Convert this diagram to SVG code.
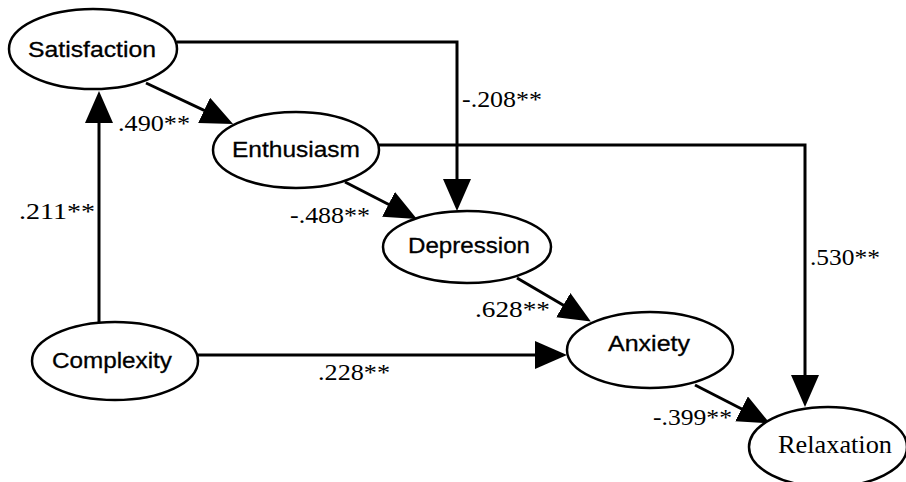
<svg xmlns="http://www.w3.org/2000/svg" width="906" height="482" viewBox="0 0 906 482">
<style>
.node ellipse{fill:#fff;stroke:#000;stroke-width:2.5}
.nl{font-family:"Liberation Sans",Arial,sans-serif;font-size:22px;fill:#000;stroke:#000;stroke-width:0.3;text-anchor:middle}
.nls{font-family:"Liberation Serif","Times New Roman",serif;font-size:25px;fill:#000;text-anchor:middle}
.cf{font-family:"Liberation Serif","Times New Roman",serif;font-size:24px;fill:#000}
.edge{fill:none;stroke:#000;stroke-width:3;marker-end:url(#ah)}
</style>
<defs>
<marker id="ah" markerUnits="userSpaceOnUse" markerWidth="34" markerHeight="30" refX="20" refY="14" orient="auto" viewBox="0 0 34 30">
<path d="M0,0 L32,14 L0,28 Z" fill="#000"/>
</marker>
</defs>
<rect width="906" height="482" fill="#fff"/>
<g id="connectors">
<path class="edge" d="M99,322 V103"/>
<path class="edge" d="M146,83 L222.2,118.9"/>
<path class="edge" d="M177,42 H457 V199"/>
<path class="edge" d="M345,182 L406.3,213.5"/>
<path class="edge" d="M378,145 H805 V395"/>
<path class="edge" d="M517,278 L580.5,315.3"/>
<path class="edge" d="M198,355 H555"/>
<path class="edge" d="M695,385 L759.3,418"/>
</g>
<g id="satisfaction" class="node"><ellipse cx="93" cy="49" rx="84" ry="40"/><text class="nl" x="92" y="57" textLength="128" lengthAdjust="spacingAndGlyphs">Satisfaction</text></g>
<g id="enthusiasm" class="node"><ellipse cx="296" cy="150" rx="83" ry="38"/><text class="nl" x="296" y="157" textLength="128" lengthAdjust="spacingAndGlyphs">Enthusiasm</text></g>
<g id="depression" class="node"><ellipse cx="467" cy="247" rx="84" ry="36"/><text class="nl" x="469" y="253" textLength="122" lengthAdjust="spacingAndGlyphs">Depression</text></g>
<g id="complexity" class="node"><ellipse cx="115" cy="361" rx="83" ry="39"/><text class="nl" x="112" y="368" textLength="120" lengthAdjust="spacingAndGlyphs">Complexity</text></g>
<g id="anxiety" class="node"><ellipse cx="650" cy="350" rx="83" ry="38"/><text class="nl" x="649" y="351" textLength="82" lengthAdjust="spacingAndGlyphs">Anxiety</text></g>
<g id="relaxation" class="node"><ellipse cx="828" cy="447" rx="79" ry="40"/><text class="nls" x="835" y="453" textLength="114" lengthAdjust="spacingAndGlyphs">Relaxation</text></g>
<g id="labels">
<text class="cf" x="118" y="131" textLength="72" lengthAdjust="spacingAndGlyphs">.490**</text>
<text class="cf" x="462" y="107" textLength="80" lengthAdjust="spacingAndGlyphs">-.208**</text>
<text class="cf" x="290" y="223" textLength="80" lengthAdjust="spacingAndGlyphs">-.488**</text>
<text class="cf" x="475" y="317" textLength="75" lengthAdjust="spacingAndGlyphs">.628**</text>
<text class="cf" x="318" y="380" textLength="72" lengthAdjust="spacingAndGlyphs">.228**</text>
<text class="cf" x="810" y="265" textLength="70" lengthAdjust="spacingAndGlyphs">.530**</text>
<text class="cf" x="653" y="425" textLength="79" lengthAdjust="spacingAndGlyphs">-.399**</text>
<text class="cf" x="19" y="219" textLength="76" lengthAdjust="spacingAndGlyphs">.211**</text>
</g>
</svg>
